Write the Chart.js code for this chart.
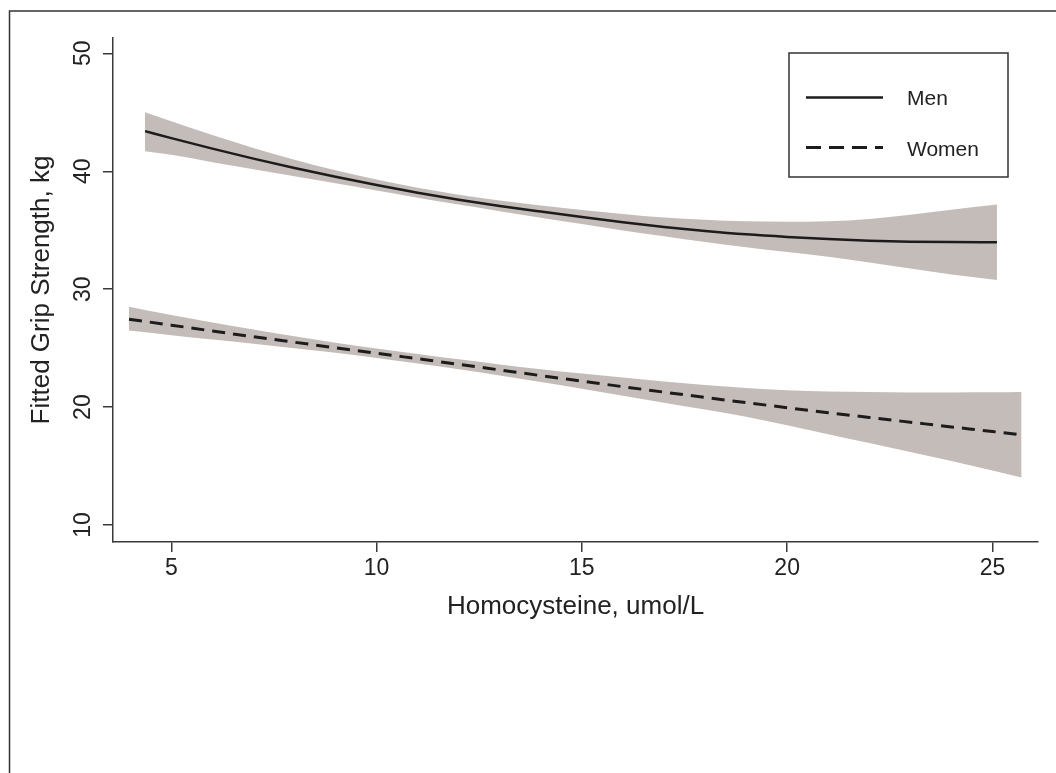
<!DOCTYPE html>
<html>
<head>
<meta charset="utf-8">
<title>Fitted Grip Strength by Homocysteine</title>
<script src="https://cdn.jsdelivr.net/npm/chart.js@4.4.1/dist/chart.umd.min.js"></script>
<style>
  html, body { margin: 0; padding: 0; background: #fff; }
  canvas { display: block; }
</style>
</head>
<body>
<canvas id="gripChart" width="1056" height="773"></canvas>
<script>
// Fitted grip strength vs homocysteine, men and women with 95% bands
const xTicks = [5, 10, 15, 20, 25];
const yTicks = [10, 20, 30, 40, 50];
const xMin = 3.58, xMax = 26.11;
const yMin = 8.56, yMax = 51.3;

const menX     = [4.36, 5, 6, 7, 8, 9, 10, 11, 12, 13, 14, 15, 16, 17, 18, 19, 20, 21, 22, 23, 24, 25.11];
const menFit   = [43.40, 42.81, 41.92, 41.07, 40.28, 39.53, 38.83, 38.18, 37.59, 37.06, 36.58, 36.12, 35.68, 35.28, 34.94, 34.65, 34.43, 34.25, 34.11, 34.03, 33.99, 33.98];
const menUpper = [45.00, 44.23, 43.07, 41.97, 40.98, 40.08, 39.29, 38.60, 38.01, 37.51, 37.10, 36.72, 36.38, 36.08, 35.89, 35.75, 35.71, 35.75, 35.96, 36.31, 36.74, 37.18];
const menLower = [41.70, 41.39, 40.77, 40.17, 39.58, 38.98, 38.37, 37.76, 37.17, 36.61, 36.06, 35.52, 34.98, 34.48, 33.99, 33.55, 33.15, 32.75, 32.26, 31.75, 31.24, 30.78];

const womenX     = [3.97, 5, 6, 7, 8, 9, 10, 11, 12, 13, 14, 15, 16, 17, 18, 19, 20, 21, 22, 23, 24, 25, 25.71];
const womenFit   = [27.45, 26.95, 26.45, 25.97, 25.50, 25.03, 24.57, 24.10, 23.63, 23.15, 22.67, 22.20, 21.73, 21.27, 20.82, 20.38, 19.95, 19.53, 19.12, 18.72, 18.32, 17.93, 17.64];
const womenUpper = [28.52, 27.80, 27.17, 26.57, 26.00, 25.46, 24.97, 24.50, 24.05, 23.62, 23.22, 22.85, 22.50, 22.17, 21.87, 21.62, 21.42, 21.32, 21.27, 21.24, 21.24, 21.25, 21.27];
const womenLower = [26.50, 26.10, 25.73, 25.37, 25.00, 24.60, 24.17, 23.70, 23.21, 22.68, 22.12, 21.55, 20.96, 20.37, 19.79, 19.18, 18.45, 17.70, 16.95, 16.20, 15.42, 14.62, 14.03];

const seriesLabels = ['Men', 'Women'];

const fontFamily = '"Liberation Sans", Arial, Helvetica, sans-serif';
const textColor = '#222222';
const axisColor = '#3a3a3a';
const lineColor = '#1c1c1c';
const bandColor = 'rgb(196, 188, 185)';
const womenDash = [13, 8];

function toPoints(xs, ys) {
  return xs.map((x, i) => ({ x: x, y: ys[i] }));
}

// Frame, rotated y tick labels and boxed legend
const extrasPlugin = {
  id: 'extras',
  afterDraw(chart) {
    const ctx = chart.ctx;
    const yScale = chart.scales.y;
    ctx.save();

    // outer frame (top and left edge)
    ctx.strokeStyle = '#333333';
    ctx.lineWidth = 1.5;
    ctx.beginPath();
    ctx.moveTo(9.5, chart.height);
    ctx.lineTo(9.5, 11);
    ctx.lineTo(chart.width, 11);
    ctx.stroke();

    // y tick labels, reading bottom to top
    ctx.fillStyle = textColor;
    ctx.font = '23px ' + fontFamily;
    ctx.textAlign = 'center';
    ctx.textBaseline = 'alphabetic';
    yTicks.forEach(v => {
      const py = yScale.getPixelForValue(v);
      ctx.save();
      ctx.translate(90, py);
      ctx.rotate(-Math.PI / 2);
      ctx.fillText(String(v), 0, 0);
      ctx.restore();
    });

    // legend box
    ctx.strokeStyle = '#333333';
    ctx.lineWidth = 1.5;
    ctx.strokeRect(789, 53, 219, 124);

    ctx.strokeStyle = lineColor;
    ctx.lineWidth = 2.5;
    ctx.beginPath();
    ctx.moveTo(806, 97.5);
    ctx.lineTo(883, 97.5);
    ctx.stroke();

    ctx.lineWidth = 3;
    ctx.setLineDash([15, 8]);
    ctx.beginPath();
    ctx.moveTo(806, 147.5);
    ctx.lineTo(883, 147.5);
    ctx.stroke();
    ctx.setLineDash([]);

    ctx.fillStyle = textColor;
    ctx.font = '21px ' + fontFamily;
    ctx.textAlign = 'left';
    ctx.textBaseline = 'alphabetic';
    ctx.fillText(seriesLabels[0], 907, 105);
    ctx.fillText(seriesLabels[1], 907, 155.5);

    ctx.restore();
  }
};

function buildChart() {
  const ctx = document.getElementById('gripChart');

  const axisGrid = {
    drawOnChartArea: false,
    drawTicks: true,
    tickLength: 10,
    color: axisColor,
    lineWidth: 1.5
  };
  const axisBorder = { display: true, color: axisColor, width: 1.5 };

  new Chart(ctx, {
    type: 'line',
    data: {
      datasets: [
        {
          label: seriesLabels[0],
          data: toPoints(menX, menFit),
          borderColor: lineColor,
          borderWidth: 2.5,
          pointRadius: 0,
          cubicInterpolationMode: 'monotone',
          fill: false
        },
        {
          label: seriesLabels[1],
          data: toPoints(womenX, womenFit),
          borderColor: lineColor,
          borderWidth: 3,
          borderDash: womenDash,
          pointRadius: 0,
          cubicInterpolationMode: 'monotone',
          fill: false
        },
        {
          label: 'Men upper',
          data: toPoints(menX, menUpper),
          borderWidth: 0,
          pointRadius: 0,
          cubicInterpolationMode: 'monotone',
          backgroundColor: bandColor,
          fill: '+1'
        },
        {
          label: 'Men lower',
          data: toPoints(menX, menLower),
          borderWidth: 0,
          pointRadius: 0,
          cubicInterpolationMode: 'monotone',
          fill: false
        },
        {
          label: 'Women upper',
          data: toPoints(womenX, womenUpper),
          borderWidth: 0,
          pointRadius: 0,
          cubicInterpolationMode: 'monotone',
          backgroundColor: bandColor,
          fill: '+1'
        },
        {
          label: 'Women lower',
          data: toPoints(womenX, womenLower),
          borderWidth: 0,
          pointRadius: 0,
          cubicInterpolationMode: 'monotone',
          fill: false
        }
      ]
    },
    options: {
      responsive: false,
      animation: false,
      devicePixelRatio: 1,
      layout: {
        padding: { top: 38, right: 18, bottom: 151, left: 0 }
      },
      plugins: {
        legend: { display: false },
        tooltip: { enabled: false }
      },
      scales: {
        x: {
          type: 'linear',
          min: xMin,
          max: xMax,
          afterBuildTicks: scale => { scale.ticks = xTicks.map(v => ({ value: v })); },
          afterFit: scale => { scale.height = 80; },
          grid: axisGrid,
          border: axisBorder,
          ticks: {
            padding: 3,
            color: textColor,
            maxRotation: 0,
            autoSkip: false,
            font: { size: 23, family: fontFamily }
          },
          title: {
            display: true,
            text: 'Homocysteine, umol/L',
            color: textColor,
            font: { size: 26, family: fontFamily },
            padding: { top: 0, bottom: 0 }
          }
        },
        y: {
          type: 'linear',
          min: yMin,
          max: yMax,
          afterBuildTicks: scale => { scale.ticks = yTicks.map(v => ({ value: v })); },
          afterFit: scale => { scale.width = 113; },
          grid: axisGrid,
          border: axisBorder,
          ticks: { display: false },
          title: {
            display: true,
            text: 'Fitted Grip Strength, kg',
            color: textColor,
            font: { size: 26, family: fontFamily },
            padding: { top: 26, bottom: 0 }
          }
        }
      }
    },
    plugins: [extrasPlugin]
  });
}

if (document.readyState === 'loading') {
  document.addEventListener('DOMContentLoaded', buildChart);
} else {
  buildChart();
}
</script>
</body>
</html>
